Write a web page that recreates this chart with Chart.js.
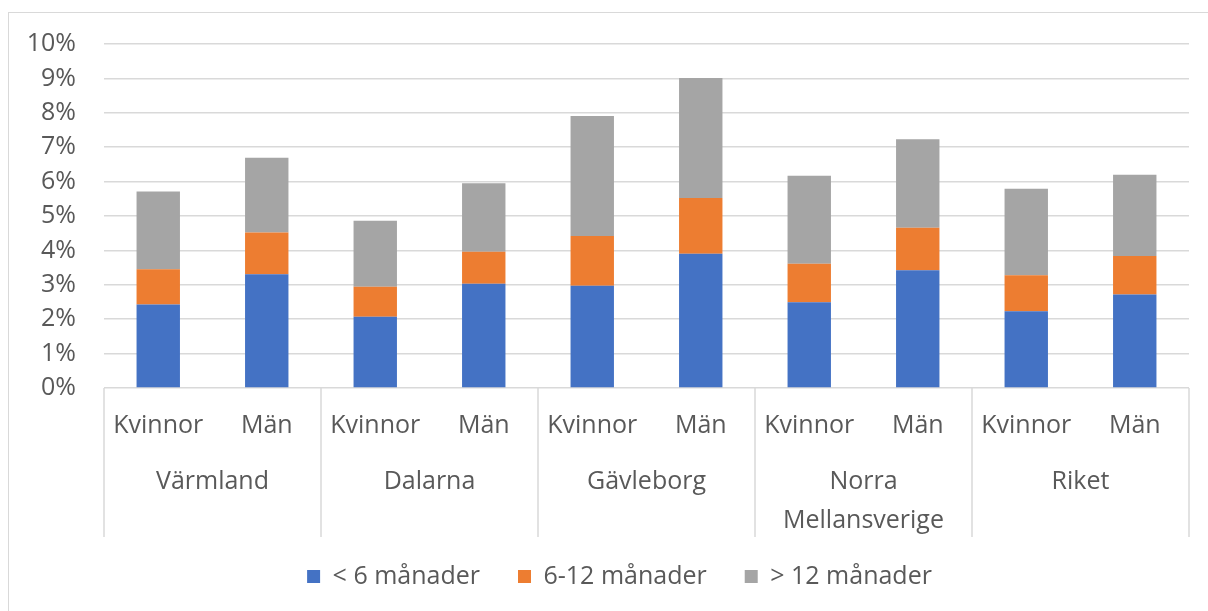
<!DOCTYPE html>
<html>
<head>
<meta charset="utf-8">
<script src="https://cdn.jsdelivr.net/npm/chart.js@4/dist/chart.umd.min.js"></script>
<style>
  body { margin: 0; background: #fff; }
  #wrap { position: relative; width: 1208px; height: 611px; overflow: hidden; }
  #frame { position: absolute; left: 8px; top: 12px; width: 1300px; height: 700px; border: 1.5px solid #d9d9d9; box-sizing: border-box; }
  canvas { position: absolute; left: 0; top: 0; }
</style>
</head>
<body>
<div id="wrap">
  <div id="frame"></div>
  <canvas id="chart" width="1208" height="611"></canvas>
</div>
<script>
// sub categories (gender) and groups (region)
const genders = ['Kvinnor', 'Män', 'Kvinnor', 'Män', 'Kvinnor', 'Män', 'Kvinnor', 'Män', 'Kvinnor', 'Män'];
const regions = ['Värmland', 'Dalarna', 'Gävleborg', ['Norra', 'Mellansverige'], 'Riket'];

// share in percent
const under6 = [2.43, 3.31, 2.07, 3.03, 2.97, 3.90, 2.49, 3.42, 2.23, 2.72];
const from6to12 = [1.02, 1.21, 0.87, 0.93, 1.45, 1.62, 1.12, 1.24, 1.05, 1.12];
const over12 = [2.26, 2.17, 1.92, 1.99, 3.49, 3.49, 2.56, 2.57, 2.51, 2.36];

const yTicks = [0, 1, 2, 3, 4, 5, 6, 7, 8, 9, 10];

const FONT = "'Open Sans', 'Noto Sans', sans-serif";
const SIZE = 25;
const TEXT = '#595959';
const LINE = '#d9d9d9';

// draws the box lines round the category labels
const groupLines = {
  id: 'groupLines',
  afterDraw(chart) {
    const ctx = chart.ctx;
    const x = chart.scales.x;
    const top = chart.chartArea.bottom;
    const bottom = chart.scales.x2.bottom;
    const xs = [chart.chartArea.left];
    for (let i = 2; i < genders.length; i += 2) {
      xs.push((x.getPixelForValue(i - 1) + x.getPixelForValue(i)) / 2);
    }
    xs.push(chart.chartArea.right);
    ctx.save();
    ctx.strokeStyle = LINE;
    ctx.lineWidth = 1.5;
    xs.forEach(px => {
      ctx.beginPath();
      ctx.moveTo(Math.round(px), top);
      ctx.lineTo(Math.round(px), bottom);
      ctx.stroke();
    });
    ctx.restore();
  }
};

// the legend sits a bit higher and more to the right than the layout puts it
const legendNudge = {
  id: 'legendNudge',
  afterLayout(chart) {
    const lg = chart.legend;
    lg.top -= 11; lg.bottom -= 11;
    lg.left += 25; lg.right += 25;
  }
};

const ctx = document.getElementById('chart').getContext('2d');
const myChart = new Chart(ctx, {
  type: 'bar',
  data: {
    labels: genders,
    datasets: [
      { label: '< 6 månader', data: under6, backgroundColor: '#4472C4' },
      { label: '6-12 månader', data: from6to12, backgroundColor: '#ED7D31' },
      { label: '> 12 månader', data: over12, backgroundColor: '#A5A5A5' }
    ]
  },
  options: {
    responsive: false,
    animation: false,
    layout: { padding: { left: 0, top: 44, right: 19, bottom: 1 } },
    datasets: { bar: { categoryPercentage: 1, barPercentage: 0.4 } },
    plugins: {
      tooltip: { enabled: false },
      legend: {
        position: 'bottom',
        labels: {
          boxWidth: 13,
          boxHeight: 13,
          padding: 38,
          color: TEXT,
          font: { family: FONT, size: SIZE }
        }
      }
    },
    scales: {
      y: {
        stacked: true,
        min: 0,
        max: 10,
        afterBuildTicks: s => { s.ticks = yTicks.map(v => ({ value: v })); },
        afterFit: s => { s.width = 104; },
        border: { display: false },
        grid: { color: LINE, lineWidth: 1.5, drawTicks: false },
        ticks: {
          padding: 28,
          color: TEXT,
          font: { family: FONT, size: SIZE },
          callback: v => v + '%'
        }
      },
      x: {
        stacked: true,
        afterFit: s => { s.height = 70; },
        border: { display: false },
        grid: { display: false, drawTicks: false },
        ticks: {
          padding: 23,
          maxRotation: 0,
          autoSkip: false,
          color: TEXT,
          font: { family: FONT, size: SIZE }
        }
      },
      x2: {
        type: 'category',
        position: 'bottom',
        labels: regions,
        offset: true,
        afterFit: s => { s.height = 79; },
        border: { display: false },
        grid: { display: false, drawTicks: false },
        ticks: {
          padding: 4,
          maxRotation: 0,
          autoSkip: false,
          color: TEXT,
          font: { family: FONT, size: SIZE, lineHeight: 1.56 }
        }
      }
    }
  },
  plugins: [groupLines, legendNudge]
});
</script>
</body>
</html>
